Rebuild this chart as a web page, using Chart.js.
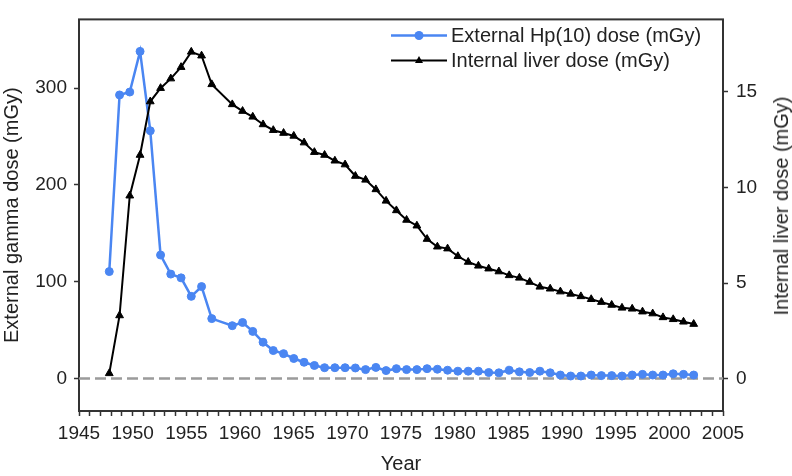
<!DOCTYPE html>
<html>
<head>
<meta charset="utf-8">
<script src="https://cdn.jsdelivr.net/npm/chart.js@4/dist/chart.umd.min.js"></script>
<style>
  html, body { margin: 0; padding: 0; background: #fff; }
  #wrap { position: relative; width: 792px; height: 476px; }
  #legend { position: absolute; left: 391px; top: 23px; font-family: 'Liberation Sans', Arial, sans-serif; font-size: 20px; line-height: 25px; color: #222; }
  .row { display: flex; align-items: center; height: 25px; white-space: nowrap; }
  .row svg { margin-right: 4px; display: block; }
  #rtitle { position: absolute; left: 781px; top: 206px; transform: translate(-50%, -50%) rotate(-90deg); font-family: 'Liberation Sans', Arial, sans-serif; font-size: 20px; line-height: 20px; white-space: nowrap; color: #222; }
</style>
</head>
<body>
<div id="wrap">
  <canvas id="c" width="792" height="476"></canvas>
  <div id="legend"></div>
  <div id="rtitle"></div>
</div>
<script>
// ---- Data ----
const years = [1947.82, 1948.78, 1949.73, 1950.69, 1951.64, 1952.60, 1953.55, 1954.51, 1955.46, 1956.42,
  1957.37, 1959.28, 1960.24, 1961.19, 1962.15, 1963.10, 1964.06, 1965.01, 1965.97, 1966.93,
  1967.88, 1968.84, 1969.79, 1970.75, 1971.70, 1972.66, 1973.61, 1974.57, 1975.52, 1976.48,
  1977.43, 1978.39, 1979.34, 1980.30, 1981.26, 1982.21, 1983.17, 1984.12, 1985.08, 1986.03,
  1986.99, 1987.94, 1988.90, 1989.85, 1990.81, 1991.76, 1992.72, 1993.67, 1994.63, 1995.59,
  1996.54, 1997.50, 1998.45, 1999.41, 2000.36, 2001.32, 2002.27];

const externalDose = [110.5, 293, 296, 338, 256, 127.6, 107.9, 104, 84.9, 95,
  61.9, 54.6, 57.9, 48.7, 37.5, 28.9, 25.7, 20.7, 16.8, 13.5,
  11.2, 11.2, 11.2, 10.9, 9.2, 11.5, 8.2, 10.2, 9.2, 9.2,
  10.2, 9.6, 8.6, 7.6, 7.6, 7.6, 6.2, 5.9, 8.6, 6.9,
  6.2, 7.6, 5.9, 3.6, 2.6, 2.6, 3.6, 3.0, 3.0, 2.6,
  3.6, 4.3, 3.6, 3.6, 4.9, 4.3, 3.6];

const internalLiverDose = [0.27, 3.3, 9.57, 11.7, 14.5, 15.2, 15.7, 16.3, 17.1, 16.9,
  15.4, 14.35, 14.0, 13.7, 13.3, 13.0, 12.85, 12.7, 12.35, 11.85,
  11.7, 11.4, 11.2, 10.6, 10.4, 9.9, 9.3, 8.8, 8.3, 8.0,
  7.3, 6.9, 6.8, 6.4, 6.1, 5.9, 5.75, 5.6, 5.4, 5.27,
  5.05, 4.8, 4.7, 4.55, 4.43, 4.3, 4.15, 4.0, 3.85, 3.7,
  3.65, 3.5, 3.4, 3.2, 3.1, 2.97, 2.85];

const xLabelYears = [1945, 1950, 1955, 1960, 1965, 1970, 1975, 1980, 1985, 1990, 1995, 2000, 2005];
const leftTicks = [0, 100, 200, 300];
const rightTicks = [0, 5, 10, 15];

const externalLabel = 'External Hp(10) dose (mGy)';
const internalLabel = 'Internal liver dose (mGy)';
const leftAxisTitle = 'External gamma dose (mGy)';
const rightAxisTitle = 'Internal liver dose (mGy)';
const xAxisTitle = 'Year';

// ---- Styling ----
const BLUE = '#4a86f2';
const AXIS = '#333';
const TEXT = '#222';
Chart.defaults.font.family = "'Liberation Sans', Arial, sans-serif";

const framePlugin = {
  id: 'frame',
  beforeDatasetsDraw(chart) {
    const { ctx, chartArea: a } = chart;
    ctx.save();
    ctx.strokeStyle = AXIS;
    ctx.lineWidth = 2;
    ctx.strokeRect(a.left, a.top, a.right - a.left, a.bottom - a.top);
    ctx.restore();
  }
};

const chart = new Chart(document.getElementById('c'), {
  type: 'line',
  data: {
    datasets: [
      {
        label: externalLabel,
        data: years.map((x, i) => ({ x, y: externalDose[i] })),
        yAxisID: 'y',
        borderColor: BLUE, backgroundColor: BLUE,
        borderWidth: 2.5, pointStyle: 'circle', pointRadius: 4, pointBorderWidth: 1,
        tension: 0, order: 2
      },
      {
        label: internalLabel,
        data: years.map((x, i) => ({ x, y: internalLiverDose[i] })),
        yAxisID: 'y1',
        borderColor: '#000', backgroundColor: '#000',
        borderWidth: 2, pointStyle: 'triangle', pointRadius: 4.5, pointBorderWidth: 1,
        tension: 0, order: 1
      },
      {
        label: '',
        data: [{ x: xLabelYears[0], y: 0 }, { x: xLabelYears[xLabelYears.length - 1], y: 0 }],
        yAxisID: 'y',
        borderColor: '#9b9b9b', borderDash: [11, 5], borderWidth: 2.5,
        pointRadius: 0, order: 3
      }
    ]
  },
  options: {
    responsive: false,
    animation: false,
    layout: { padding: { top: 1, left: 0, right: 0, bottom: 0 } },
    plugins: { legend: { display: false }, tooltip: { enabled: false } },
    scales: {
      x: {
        type: 'linear', position: 'bottom',
        min: xLabelYears[0], max: xLabelYears[xLabelYears.length - 1],
        afterFit: s => { s.height = 65; },
        ticks: {
          stepSize: 1, autoSkip: false, maxRotation: 0, minRotation: 0,
          padding: 6, color: TEXT, font: { size: 19 },
          callback: v => xLabelYears.includes(v) ? String(v) : ''
        },
        grid: { drawOnChartArea: false, drawTicks: true, tickLength: 5, tickWidth: 1.5, tickColor: AXIS },
        border: { display: false },
        title: { display: true, text: xAxisTitle, color: TEXT, font: { size: 20 }, padding: { top: 0, bottom: 0 } }
      },
      y: {
        type: 'linear', position: 'left',
        min: -33.55, max: 371.05,
        afterBuildTicks: s => { s.ticks = leftTicks.map(v => ({ value: v })); },
        afterFit: s => { s.width = 79; },
        ticks: { padding: 7, color: TEXT, font: { size: 19 } },
        grid: { drawOnChartArea: false, drawTicks: true, tickLength: 5, tickWidth: 1.5, tickColor: AXIS },
        border: { display: false },
        title: { display: true, text: leftAxisTitle, color: TEXT, font: { size: 20 }, padding: { top: 0, bottom: 0 } }
      },
      y1: {
        type: 'linear', position: 'right',
        min: -1.7, max: 18.8,
        afterBuildTicks: s => { s.ticks = rightTicks.map(v => ({ value: v })); },
        afterFit: s => { s.width = 69; },
        ticks: { padding: 8, color: TEXT, font: { size: 19 } },
        grid: { drawOnChartArea: false, drawTicks: true, tickLength: 5, tickWidth: 1.5, tickColor: AXIS },
        border: { display: false },
        title: { display: false }
      }
    }
  },
  plugins: [framePlugin]
});

// ---- HTML legend built from the datasets ----
const svgNS = 'http://www.w3.org/2000/svg';
const legendEl = document.getElementById('legend');
chart.data.datasets.filter(d => d.label).forEach(d => {
  const row = document.createElement('div');
  row.className = 'row';
  const svg = document.createElementNS(svgNS, 'svg');
  svg.setAttribute('width', '56');
  svg.setAttribute('height', '25');
  const line = document.createElementNS(svgNS, 'line');
  line.setAttribute('x1', '0'); line.setAttribute('x2', '56');
  line.setAttribute('y1', '12.5'); line.setAttribute('y2', '12.5');
  line.setAttribute('stroke', d.borderColor);
  line.setAttribute('stroke-width', d.borderWidth);
  svg.appendChild(line);
  let marker;
  if (d.pointStyle === 'triangle') {
    marker = document.createElementNS(svgNS, 'polygon');
    marker.setAttribute('points', '28,8 32,15 24,15');
  } else {
    marker = document.createElementNS(svgNS, 'circle');
    marker.setAttribute('cx', '28'); marker.setAttribute('cy', '12.5'); marker.setAttribute('r', '4.5');
  }
  marker.setAttribute('fill', d.backgroundColor);
  svg.appendChild(marker);
  const span = document.createElement('span');
  span.textContent = d.label;
  row.appendChild(svg);
  row.appendChild(span);
  legendEl.appendChild(row);
});
document.getElementById('rtitle').textContent = rightAxisTitle;
</script>
</body>
</html>
